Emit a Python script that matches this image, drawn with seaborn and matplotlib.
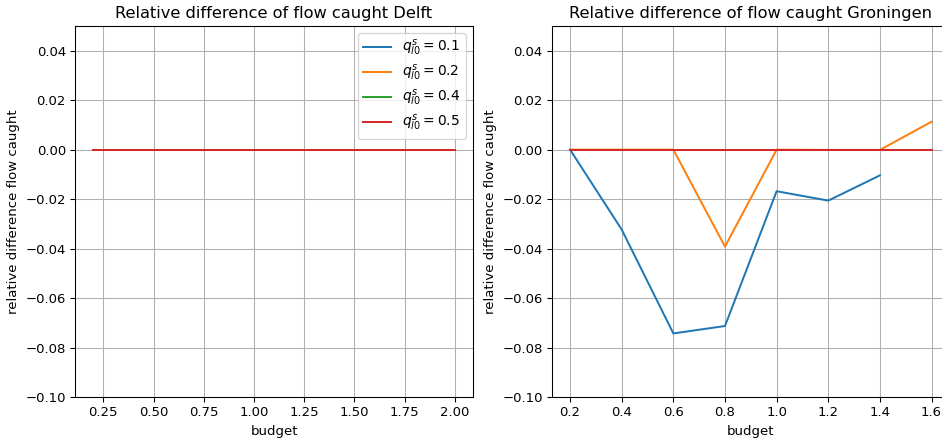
import numpy as np
import pandas as pd
import matplotlib
matplotlib.use("Agg")
import matplotlib.pyplot as plt
import seaborn as sns

q_values = [0.1, 0.2, 0.4, 0.5]

delft_budget = [0.2, 0.4, 0.6, 0.8, 1.0, 1.2, 1.4, 1.6, 1.8, 2.0]
delft_q01 = [0.0] * 10
delft_q02 = [0.0] * 10
delft_q04 = [0.0] * 10
delft_q05 = [0.0] * 10

gron_budget = [0.2, 0.4, 0.6, 0.8, 1.0, 1.2, 1.4, 1.6]
gron_q01 = [0.0, -0.0323, -0.0743, -0.0713, -0.0168, -0.0206, -0.0104, np.nan]
gron_q02 = [0.0, 0.0, 0.0, -0.0392, 0.0, -0.0001, -0.0001, 0.0113]
gron_q04 = [0.0, 0.0, 0.0, 0.0, 0.0, 0.0, 0.0, 0.0]
gron_q05 = [0.0, 0.0, 0.0, 0.0, 0.0, 0.0, 0.0, 0.0]


def build(budget, series):
    rows = []
    for q, vals in zip(q_values, series):
        for b, v in zip(budget, vals):
            rows.append({"budget": b, "val": v, "q": rf"$q^s_{{l0}} = {q}$"})
    return pd.DataFrame(rows)


df_d = build(delft_budget, [delft_q01, delft_q02, delft_q04, delft_q05])
df_g = build(gron_budget, [gron_q01, gron_q02, gron_q04, gron_q05])

palette = sns.color_palette("tab10", 4)
DPI = 95
fig = plt.figure(figsize=(942 / DPI, 439 / DPI), dpi=DPI)
ax1 = fig.add_axes([75.2 / 942, 42 / 439, 397.6 / 942, 371 / 439])
ax2 = fig.add_axes([552 / 942, 42 / 439, 397.6 / 942, 371 / 439])

for ax, df, title, leg in [
    (ax1, df_d, "Relative difference of flow caught Delft", True),
    (ax2, df_g, "Relative difference of flow caught Groningen", False),
]:
    sns.lineplot(data=df, x="budget", y="val", hue="q", palette=palette,
                 ax=ax, legend=leg, linewidth=1.5)
    ax.set_ylim(-0.10, 0.05)
    ax.grid(True, color="#b0b0b0", linewidth=0.8)
    ax.set_title(title, fontsize=12.3)
    ax.set_xlabel("budget")
    ax.set_ylabel("relative difference flow caught")

ax1.legend(loc="upper right", title=None, fontsize=10.5, labelspacing=0.35)
ax2.set_xticks([0.2, 0.4, 0.6, 0.8, 1.0, 1.2, 1.4, 1.6])

fig.savefig("out.png", dpi=DPI)
